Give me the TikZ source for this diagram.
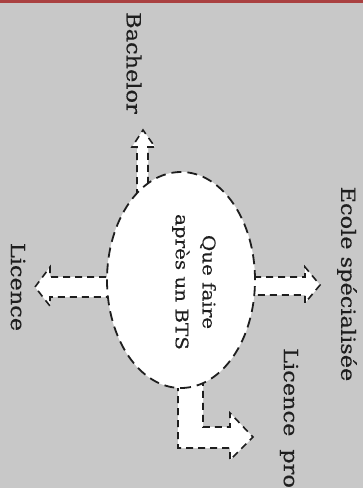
\documentclass[tikz,border=0pt]{standalone}
\usepackage{fontspec}
\setmainfont{DejaVu Serif}
\newfontfamily\etiqfont{DejaVu Serif}[FakeStretch=1.15,FakeBold=0.4]
\usepackage{tikz}
\usetikzlibrary{shapes.geometric}
\definecolor{fond}{RGB}{200,200,200}
\definecolor{bande}{RGB}{170,65,65}
\definecolor{encre}{RGB}{30,30,30}
\begin{document}
\begin{tikzpicture}[x=1pt,y=-1pt,
    fleche/.style={draw=encre,fill=white,line width=1.6pt,dash pattern=on 7pt off 5pt,line join=miter},
    bulle/.style={ellipse,draw=encre,fill=white,line width=1.8pt,dash pattern=on 10pt off 6pt,rotate=-90,minimum width=216pt,minimum height=148pt,inner sep=0pt},
    etiq/.style={rotate=-90,text=encre,font=\etiqfont\fontsize{19.5}{28}\selectfont,inner sep=0pt}]
\fill[fond] (0,0) rectangle (363,488);
\fill[bande] (0,0) rectangle (363,3);
\useasboundingbox (0,0) rectangle (363,488);
\draw[fleche] (137,220) -- (137,147) -- (132,147) -- (143,130) -- (155,147) -- (148,147) -- (148,220) -- cycle;
\draw[fleche] (130,277) -- (50,277) -- (50,267) -- (35,287) -- (50,306) -- (50,297) -- (130,297) -- cycle;
\draw[fleche] (230,277) -- (305,277) -- (305,267) -- (320,285) -- (305,303) -- (305,295) -- (230,295) -- cycle;
\draw[fleche] (178,360) -- (178,448) -- (230,448) -- (230,460) -- (253,437) -- (230,413) -- (230,427) -- (203,427) -- (203,360) -- cycle;
\node[bulle] (Q) at (181,280) {};
\node[etiq,align=center,font=\etiqfont\fontsize{17.3}{27}\selectfont] (QT) at (194,282) {Que faire\\après un BTS};
\node[etiq] (BA) at (134,63) {Bachelor};
\node[etiq] (LI) at (18,287) {Licence};
\node[etiq] (EC) at (347,284) {Ecole spécialisée};
\node[etiq,anchor=west] (LP) at (289,348) {Licence\hspace{13pt}pro};
\end{tikzpicture}
\end{document}
